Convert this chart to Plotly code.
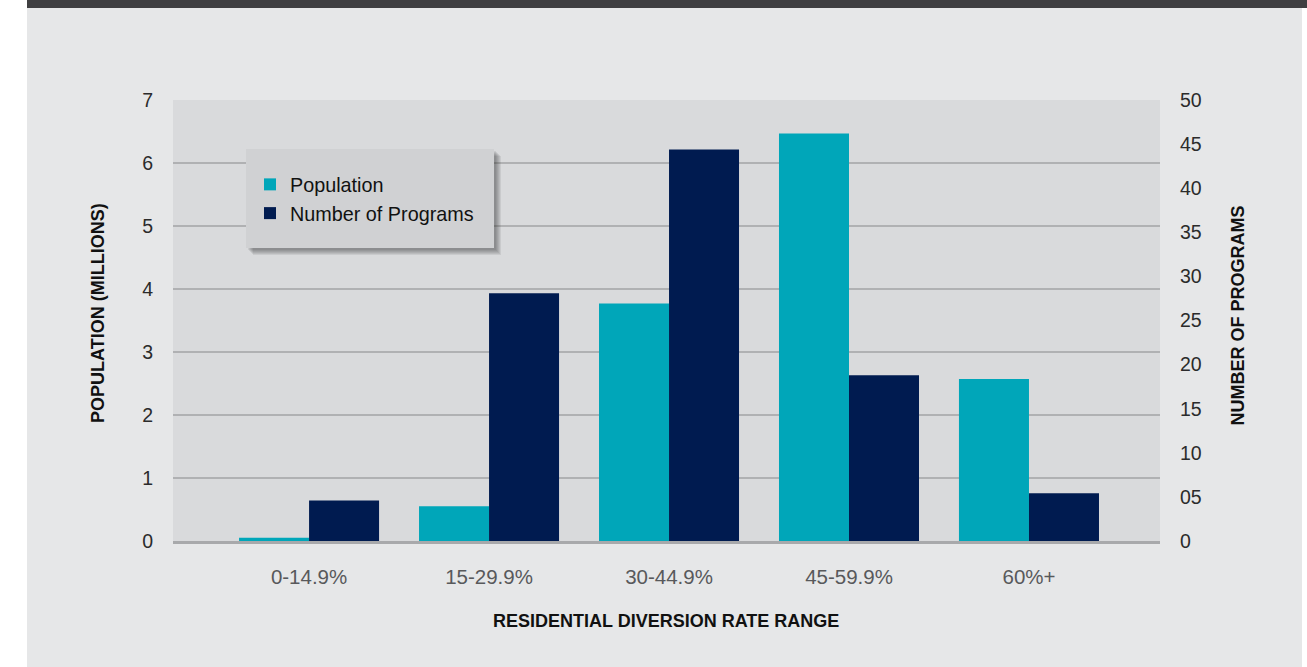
import plotly.graph_objects as go

categories = ["0-14.9%", "15-29.9%", "30-44.9%", "45-59.9%", "60%+"]
population_millions = [0.05, 0.55, 3.77, 6.47, 2.57]
number_of_programs = [4.6, 28.1, 44.4, 18.8, 5.4]

left_ticks = [0, 1, 2, 3, 4, 5, 6, 7]
right_tickvals = [0, 5, 10, 15, 20, 25, 30, 35, 40, 45, 50]
right_ticktext = ["0", "05", "10", "15", "20", "25", "30", "35", "40", "45", "50"]

TEAL = "#00a6b9"
NAVY = "#001b50"
PAGE = "#e6e7e8"
PLOT = "#d9dadc"
FONT = "Liberation Sans, Arial, Helvetica, sans-serif"

W, H = 1307, 667
L, R, T, B = 173, 147, 100, 126
PW, PH = W - L - R, H - T - B


def px(x):
    return (x - L) / PW


def py(y):
    return (H - B - y) / PH


fig = go.Figure()
fig.add_trace(go.Bar(
    x=categories, y=population_millions, name="Population",
    marker=dict(color=TEAL, line=dict(width=0)),
    width=0.389, offset=-0.389, yaxis="y", legendgroup="pop",
))
fig.add_trace(go.Bar(
    x=categories, y=number_of_programs, name="Number of Programs",
    marker=dict(color=NAVY, line=dict(width=0)),
    width=0.389, offset=0.0, yaxis="y2", legendgroup="prog",
))

shapes = []
# white side strips
shapes.append(dict(type="rect", xref="paper", yref="paper", x0=px(-10), x1=px(27),
                   y0=py(H + 10), y1=py(-10), fillcolor="white", line=dict(width=0), layer="below"))
shapes.append(dict(type="rect", xref="paper", yref="paper", x0=px(1302), x1=px(W + 10),
                   y0=py(H + 10), y1=py(-10), fillcolor="white", line=dict(width=0), layer="below"))
# dark top band
shapes.append(dict(type="rect", xref="paper", yref="paper", x0=px(27), x1=px(W + 10),
                   y0=py(8), y1=py(-10), fillcolor="#3f3f41", line=dict(width=0), layer="below"))
# legend shadow
bx0, bx1, by0, by1 = 246, 494, 149, 248
for d in [2, 3, 4, 5, 6, 7]:
    shapes.append(dict(type="rect", xref="paper", yref="paper",
                       x0=px(bx0 + d), x1=px(bx1 + d), y0=py(by1 + d), y1=py(by0 + d),
                       fillcolor="rgba(40,40,40,0.09)", line=dict(width=0), layer="above"))
# legend box
shapes.append(dict(type="rect", xref="paper", yref="paper",
                   x0=px(bx0), x1=px(bx1), y0=py(by1), y1=py(by0),
                   fillcolor="#d0d1d3", line=dict(width=0), layer="above"))

annotations = [
    dict(text="<b>RESIDENTIAL DIVERSION RATE RANGE</b>", xref="paper", yref="paper",
         x=px(666), y=py(621), xanchor="center", yanchor="middle", showarrow=False,
         font=dict(family=FONT, size=18, color="#111111")),
    dict(text="<b>POPULATION (MILLIONS)</b>", xref="paper", yref="paper",
         x=px(98), y=py(313), xanchor="center", yanchor="middle", showarrow=False,
         textangle=-90, font=dict(family=FONT, size=18, color="#111111")),
    dict(text="<b>NUMBER OF PROGRAMS</b>", xref="paper", yref="paper",
         x=px(1237.5), y=py(316), xanchor="center", yanchor="middle", showarrow=False,
         textangle=-90, font=dict(family=FONT, size=18, color="#111111")),
]

fig.update_layout(
    width=W, height=H, autosize=False,
    margin=dict(l=L, r=R, t=T, b=B, pad=0),
    paper_bgcolor=PAGE, plot_bgcolor=PLOT,
    font=dict(family=FONT, color="#2b2b2b"),
    bargap=0.222,
    showlegend=True,
    legend=dict(x=px(250), y=py(165), xanchor="left", yanchor="top",
                bgcolor="rgba(0,0,0,0)", borderwidth=0,
                font=dict(family=FONT, size=19.8, color="#111111"),
                tracegroupgap=3, traceorder="normal"),
    xaxis=dict(range=[-0.756, 4.728], showgrid=False, zeroline=False,
               showline=True, linecolor="#a8a9ab", linewidth=3,
               ticks="outside", ticklen=15, tickcolor="rgba(0,0,0,0)",
               tickfont=dict(family=FONT, size=20.5, color="#58595b")),
    yaxis=dict(range=[0, 7], tickvals=left_ticks, showgrid=True, gridcolor="#b0b1b3",
               gridwidth=1.5, zeroline=False, showline=False,
               ticks="outside", ticklen=15, tickcolor="rgba(0,0,0,0)",
               tickfont=dict(family=FONT, size=19.5, color="#2b2b2b")),
    yaxis2=dict(range=[0, 50], tickvals=right_tickvals, ticktext=right_ticktext,
                overlaying="y", side="right", showgrid=False, zeroline=False, showline=False,
                ticks="outside", ticklen=15, tickcolor="rgba(0,0,0,0)",
                tickfont=dict(family=FONT, size=19.5, color="#2b2b2b")),
    shapes=shapes,
    annotations=annotations,
)

fig.write_html("out.html", config={"displayModeBar": False},
               post_script="document.body.style.margin='0';document.body.style.overflow='hidden';")
